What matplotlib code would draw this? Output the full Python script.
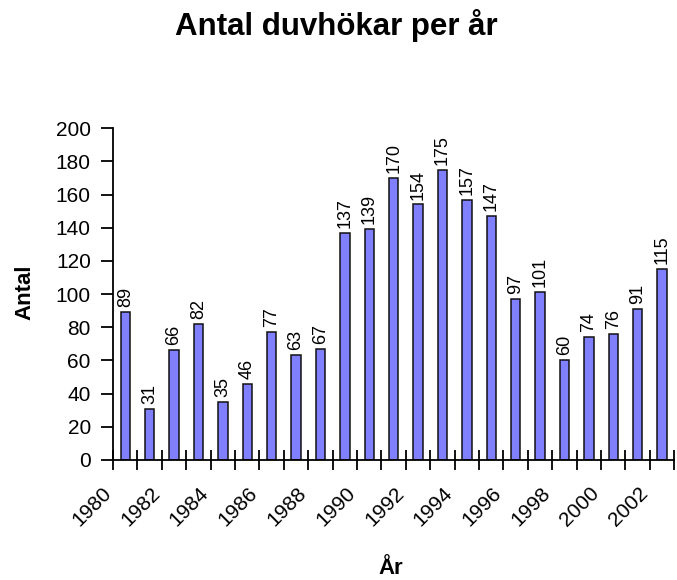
import numpy as np
import matplotlib.pyplot as plt
from matplotlib.transforms import ScaledTranslation

plt.rcParams['font.family'] = ['Liberation Sans', 'DejaVu Sans']

years = list(range(1980, 2003))
counts = [89, 31, 66, 82, 35, 46, 77, 63, 67, 137, 139, 170, 154, 175,
          157, 147, 97, 101, 60, 74, 76, 91, 115]

fig = plt.figure(figsize=(6.77, 5.80), dpi=100)
ax = fig.add_axes([0.167, 0.207, 0.829, 0.572])

x = np.arange(len(years)) + 0.5
ax.bar(x, counts, width=0.38, color='#8080ff', edgecolor='#111111', linewidth=1.1)

for xi, c in zip(x, counts):
    ax.text(xi, c + 3, str(c), rotation=90, ha='center', va='bottom', fontsize=13)

ax.set_xlim(0, len(years))
ax.set_ylim(0, 200)
ax.set_yticks(range(0, 201, 20))
bounds = np.arange(len(years) + 1)
ax.set_xticks(bounds)
ax.set_xticklabels([str(1980 + b) if b % 2 == 0 and b < len(years) else '' for b in bounds],
                   rotation=45, ha='right', va='center', rotation_mode='anchor', fontsize=15)
ax.tick_params(axis='x', direction='inout', length=14, width=1.3, pad=15)
ax.tick_params(axis='y', direction='out', length=9, width=1.3, labelsize=15, pad=7)

# shift the year labels a little to the left, as in the original
shift = ScaledTranslation(-5 / 100, 0, fig.dpi_scale_trans)
for lab in ax.get_xticklabels():
    lab.set_transform(lab.get_transform() + shift)

for s in ['top', 'right']:
    ax.spines[s].set_visible(False)
for s in ['left', 'bottom']:
    ax.spines[s].set_linewidth(1.3)

fig.text(25 / 677, 1 - 292 / 580, 'Antal', rotation=90, ha='center', va='center',
         fontsize=16, fontweight='bold')
fig.text(391 / 677, 1 - 568 / 580, 'År', ha='center', va='center',
         fontsize=16, fontweight='bold')
fig.suptitle('Antal duvhökar per år', fontsize=22.5, fontweight='bold',
             x=336 / 677, y=1 - 26 / 580, va='center')

fig.savefig('out.png', dpi=100)
